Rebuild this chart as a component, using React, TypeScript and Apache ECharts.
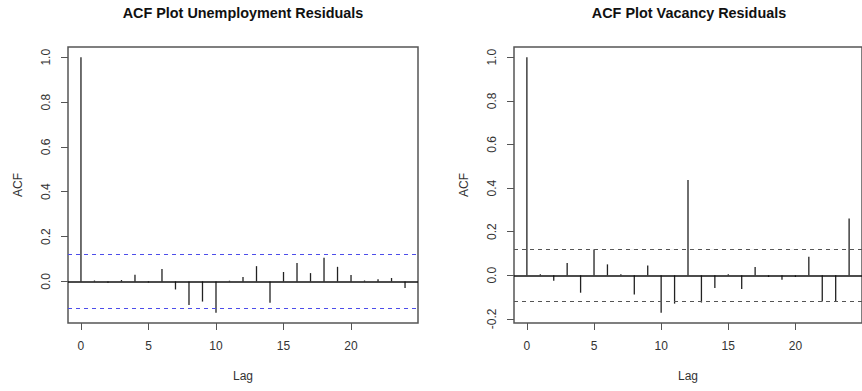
import React, { useEffect, useRef } from "react";
import * as echarts from "echarts";

// ---- Data ----
const lags: number[] = [0, 1, 2, 3, 4, 5, 6, 7, 8, 9, 10, 11, 12, 13, 14, 15, 16, 17, 18, 19, 20, 21, 22, 23, 24];
const unemploymentAcf: number[] = [
  1.0, 0.004, -0.006, 0.006, 0.03, -0.005, 0.055, -0.036, -0.105, -0.09, -0.14, 0.003,
  0.02, 0.068, -0.095, 0.042, 0.082, 0.037, 0.105, 0.065, 0.028, 0.004, 0.01, 0.015, -0.03,
];
const vacancyAcf: number[] = [
  1.0, 0.005, -0.025, 0.056, -0.08, 0.118, 0.05, 0.005, -0.088, 0.045, -0.172, -0.13,
  0.437, -0.125, -0.058, 0.005, -0.063, 0.038, -0.008, -0.02, -0.008, 0.085, -0.12, -0.12, 0.26,
];
const confBound = 0.117;
const xTicks: number[] = [0, 5, 10, 15, 20];
const yTicks: number[] = [-0.2, 0, 0.2, 0.4, 0.6, 0.8, 1.0];
const titles: string[] = ["ACF Plot Unemployment Residuals", "ACF Plot Vacancy Residuals"];
const xLabel = "Lag";
const yLabel = "ACF";

const FONT = '"Liberation Sans", Arial, Helvetica, sans-serif';

function rRange(vals: number[]): [number, number] {
  const lo = Math.min(...vals);
  const hi = Math.max(...vals);
  const ext = (hi - lo) * 0.04;
  return [lo - ext, hi + ext];
}

export default function App() {
  const ref = useRef<HTMLDivElement>(null);

  useEffect(() => {
    if (!ref.current) return;
    const chart = echarts.init(ref.current, undefined, { renderer: "svg" });

    const panels = [
      { acf: unemploymentAcf, left: 68, ciColor: "#4d4dea" },
      { acf: vacancyAcf, left: 514, ciColor: "#555555" },
    ];
    const top = 47;
    const width = 350;
    const height = 276;

    const xr = rRange(lags);

    const grids: any[] = [];
    const xAxes: any[] = [];
    const yAxes: any[] = [];
    const series: any[] = [];
    const graphics: any[] = [];

    panels.forEach((p, i) => {
      const yr = rRange([...p.acf, confBound, -confBound]);
      const yt = yTicks.filter((v) => v >= yr[0] && v <= yr[1]);
      grids.push({
        left: p.left,
        top,
        width,
        height,
        show: true,
        borderColor: "#555",
        borderWidth: 1.5,
        backgroundColor: "transparent",
      });
      xAxes.push({
        type: "value",
        gridIndex: i,
        position: "bottom",
        min: xr[0],
        max: xr[1],
        splitLine: { show: false },
        axisLine: { show: false, onZero: false },
        axisTick: { show: true, inside: false, length: 7, customValues: xTicks, lineStyle: { color: "#555" } },
        axisLabel: {
          show: true,
          customValues: xTicks,
          margin: 17,
          fontSize: 12,
          fontFamily: FONT,
          color: "#333",
          formatter: (v: number) => String(Math.round(v)),
        },
        name: xLabel,
        nameLocation: "middle",
        nameGap: 47,
        nameTextStyle: { fontSize: 12, fontFamily: FONT, color: "#333" },
      });
      yAxes.push({
        type: "value",
        gridIndex: i,
        position: "left",
        min: yr[0],
        max: yr[1],
        splitLine: { show: false },
        axisLine: { show: false, onZero: false },
        axisTick: { show: true, inside: false, length: 7, customValues: yt, lineStyle: { color: "#555" } },
        axisLabel: {
          show: true,
          customValues: yt,
          rotate: 90,
          margin: 16,
          fontSize: 12,
          fontFamily: FONT,
          color: "#333",
          formatter: (v: number) => v.toFixed(1),
        },
        name: yLabel,
        nameLocation: "middle",
        nameRotate: 90,
        nameGap: 44,
        nameTextStyle: { fontSize: 12, fontFamily: FONT, color: "#333" },
      });

      series.push({
        type: "custom",
        xAxisIndex: i,
        yAxisIndex: i,
        silent: true,
        clip: false,
        encode: { x: 0, y: 1 },
        data: lags.map((l, k) => [l, p.acf[k]]),
        renderItem: (params: any, api: any) => {
          const x = api.value(0);
          const y = api.value(1);
          const p0 = api.coord([x, 0]);
          const p1 = api.coord([x, y]);
          return {
            type: "line",
            shape: { x1: p0[0], y1: p0[1], x2: p1[0], y2: p1[1] },
            style: { stroke: "#222", lineWidth: 1.3 },
          };
        },
        markLine: {
          silent: true,
          symbol: "none",
          label: { show: false },
          animation: false,
          data: [
            { yAxis: 0, lineStyle: { color: "#111", type: "solid", width: 1.5 } },
            { yAxis: confBound, lineStyle: { color: p.ciColor, type: [4, 4], width: 1.2 } },
            { yAxis: -confBound, lineStyle: { color: p.ciColor, type: [4, 4], width: 1.2 } },
          ],
        },
      });

      graphics.push({
        type: "text",
        x: p.left + width / 2,
        y: 13,
        style: {
          text: titles[i],
          fontSize: 14.4,
          fontWeight: "bold",
          fontFamily: FONT,
          fill: "#111",
          textAlign: "center",
          textVerticalAlign: "middle",
        },
      });
    });

    chart.setOption({
      animation: false,
      backgroundColor: "#ffffff",
      grid: grids,
      xAxis: xAxes,
      yAxis: yAxes,
      series,
      graphic: graphics,
    });

    return () => chart.dispose();
  }, []);

  return (
    <div
      ref={ref}
      style={{ position: "absolute", left: 0, top: 0, width: 862, height: 391 }}
    />
  );
}
